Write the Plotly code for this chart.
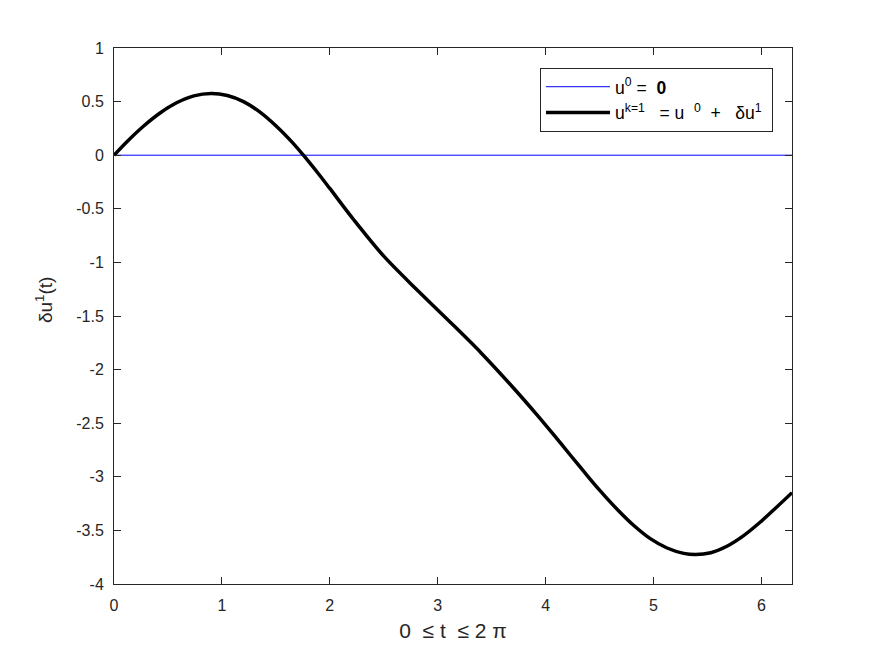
import numpy as np
import plotly.graph_objects as go

# data
t_vals = [0, 0.12, 0.27, 0.43, 0.58, 0.74, 0.9, 1.05, 1.2, 1.35, 1.5, 1.65, 1.755,
          1.9, 2.0, 2.22, 2.5, 2.8, 3.1, 3.4, 3.7, 3.92, 4.07, 4.23, 4.38, 4.5,
          4.66, 4.82, 4.97, 5.125, 5.28, 5.39, 5.53, 5.68, 5.835, 5.99, 6.145, 6.2832]
du_vals = [0, 0.126, 0.268, 0.396, 0.489, 0.553, 0.575, 0.557, 0.50, 0.404, 0.275, 0.122, 0.0,
           -0.18, -0.31, -0.60, -0.942, -1.248, -1.542, -1.842, -2.169, -2.422, -2.602, -2.799,
           -2.982, -3.124, -3.30, -3.457, -3.577, -3.664, -3.714, -3.725, -3.708, -3.648,
           -3.549, -3.422, -3.279, -3.148]
u0_t = [0, 6.2832]
u0_vals = [0, 0]
x_ticks = [0, 1, 2, 3, 4, 5, 6]
y_ticks = [1, 0.5, 0, -0.5, -1, -1.5, -2, -2.5, -3, -3.5, -4]
y_tick_labels = ["1", "0.5", "0", "-0.5", "-1", "-1.5", "-2", "-2.5", "-3", "-3.5", "-4"]

FONT = "Liberation Sans, Arial, sans-serif"
AX = "#262626"
NB = "\u00a0"

fig = go.Figure()
fig.add_trace(go.Scatter(x=u0_t, y=u0_vals, mode="lines",
                         line=dict(color="#0000ff", width=1),
                         name="u<sup>0</sup>" + NB + "=" + NB * 2 + "<b>0</b>"))
fig.add_trace(go.Scatter(x=t_vals, y=du_vals, mode="lines",
                         line=dict(color="#000000", width=3.5, shape="spline", smoothing=0.9),
                         name="u<sup>k=1</sup>" + NB * 3 + "=" + NB + "u" + NB * 2 + "<sup>0</sup>" + NB * 2
                              + "+" + NB * 3 + "δu<sup>1</sup>" + NB))

axis_common = dict(showgrid=False, zeroline=False, showline=True, linecolor=AX,
                   linewidth=1, mirror="allticks", ticks="inside", ticklen=7,
                   tickcolor=AX, tickwidth=1,
                   tickfont=dict(family=FONT, size=16, color=AX))

fig.update_xaxes(range=[0, 2 * np.pi], tickvals=x_ticks, ticklabelstandoff=7,
                 title=dict(text="0" + NB * 2 + "≤" + NB + "t" + NB * 2 + "≤" + NB + "2" + NB + "π",
                            font=dict(family=FONT, size=21, color=AX), standoff=10),
                 **axis_common)
fig.update_yaxes(range=[-4, 1], tickvals=y_ticks, ticktext=y_tick_labels,
                 ticklabelstandoff=6, **axis_common)

fig.add_annotation(text="δu<sup>1</sup>(t)", textangle=-90, xref="paper", yref="paper",
                   x=-0.103, y=0.53, xanchor="center", yanchor="middle", showarrow=False,
                   font=dict(family=FONT, size=19, color=AX))

fig.update_layout(
    width=875, height=657,
    margin=dict(l=114, r=83, t=48, b=73, autoexpand=False),
    paper_bgcolor="white", plot_bgcolor="white",
    font=dict(family=FONT, size=16, color=AX),
    showlegend=True,
    legend=dict(x=0.972, y=0.963, xanchor="right", yanchor="top",
                bgcolor="white", bordercolor=AX, borderwidth=1,
                font=dict(family=FONT, size=17.5, color="#000000"),
                itemwidth=64, tracegroupgap=0),
)

fig.write_html("out.html")
